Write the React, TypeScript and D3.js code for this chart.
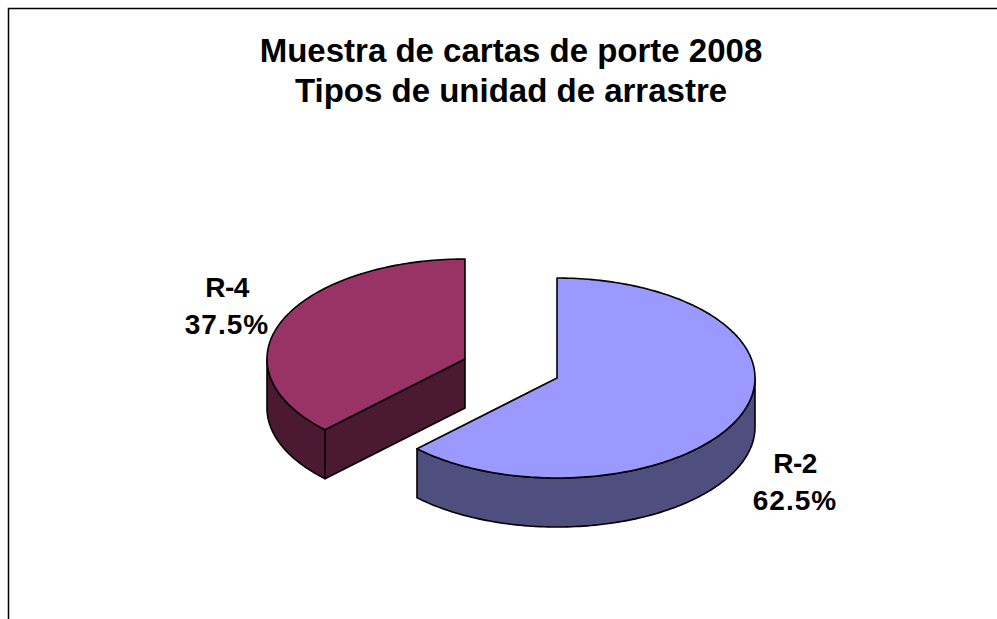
import React from "react";
import * as d3 from "d3";

const categories = ["R-2", "R-4"];
const shares = [62.5, 37.5];
const titleLines = ["Muestra de cartas de porte 2008", "Tipos de unidad de arrastre"];
const topColors = ["#9999FF", "#993366"];
const sideColors = ["#4F4F7F", "#4C1933"];

const W = 997, H = 619;
const RX = 198, RY = 100, DEPTH = 49;
const centers = [{ x: 557, y: 378 }, { x: 465, y: 359 }];
const labelPos = [{ x: 795, y: 473 }, { x: 227, y: 297 }];
const FONT = "'Liberation Sans', Arial, sans-serif";

const pie = d3.pie<number>().sort(null).value((d) => d);
const arcs = pie(shares);

const rx = d3.scaleLinear().domain([-1, 1]).range([-RX, RX]);
const ry = d3.scaleLinear().domain([-1, 1]).range([-RY, RY]);

const pt = (c: { x: number; y: number }, a: number, dz = 0): [number, number] => [
  c.x + rx(Math.sin(a)),
  c.y - ry(Math.cos(a)) + dz,
];
const sample = (a0: number, a1: number) => {
  const n = Math.max(2, Math.ceil(Math.abs(a1 - a0) / 0.02));
  return d3.range(n + 1).map((i) => a0 + ((a1 - a0) * i) / n);
};
const line = d3.line<[number, number]>();

function topPath(c: { x: number; y: number }, a0: number, a1: number) {
  return line([[c.x, c.y], ...sample(a0, a1).map((a) => pt(c, a))]) + "Z";
}
function wallPath(c: { x: number; y: number }, a0: number, a1: number) {
  const top = sample(a0, a1).map((a) => pt(c, a));
  const bottom = sample(a1, a0).map((a) => pt(c, a, DEPTH));
  return line([...top, ...bottom]) + "Z";
}
function cutPath(c: { x: number; y: number }, a: number) {
  const e = pt(c, a);
  return line([[c.x, c.y], e, [e[0], e[1] + DEPTH], [c.x, c.y + DEPTH]]) + "Z";
}

export default function App() {
  const stroke = { stroke: "#000", strokeWidth: 1.6, strokeLinejoin: "round" as const };
  return (
    <svg width={W} height={H} style={{ position: "fixed", left: 0, top: 0, background: "#fff" }}>
      <path d={`M8.5 ${H}V8.5H${W}`} fill="none" stroke="#000" strokeWidth={1.5} />
      {arcs.map((d, i) => {
        const c = centers[i];
        const a0 = d.startAngle, a1 = d.endAngle;
        const wallStart = Math.max(a0, Math.PI / 2);
        const wallEnd = Math.min(a1, (3 * Math.PI) / 2);
        return (
          <g key={categories[i]}>
            {i === 1 && <path d={cutPath(c, a0)} fill={sideColors[i]} {...stroke} />}
            <path d={wallPath(c, wallStart, wallEnd)} fill={sideColors[i]} {...stroke} />
            <path d={topPath(c, a0, a1)} fill={topColors[i]} {...stroke} />
          </g>
        );
      })}
      <g fontFamily={FONT} fontWeight="bold" fill="#000" textAnchor="middle">
        {titleLines.map((t, i) => (
          <text key={t} x={511} y={62 + i * 40} fontSize={33}>{t}</text>
        ))}
        {arcs.map((d, i) => (
          <text key={categories[i]} fontSize={28}>
            <tspan x={labelPos[i].x} y={labelPos[i].y} letterSpacing={-0.5}>{categories[i]}</tspan>
            <tspan x={labelPos[i].x} y={labelPos[i].y + 37} letterSpacing={1}>{d3.format(".1f")(d.value)}%</tspan>
          </text>
        ))}
      </g>
    </svg>
  );
}
